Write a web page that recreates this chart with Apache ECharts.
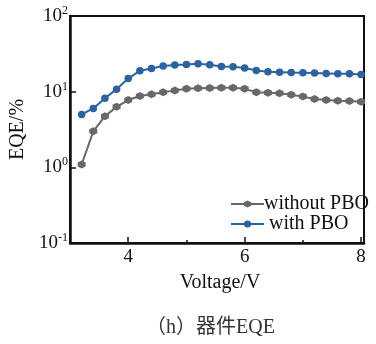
<!DOCTYPE html>
<html>
<head>
<meta charset="utf-8">
<script src="https://cdn.jsdelivr.net/npm/echarts@6/dist/echarts.min.js"></script>
<style>
  html, body { margin: 0; padding: 0; background: #fff; }
  #chart { width: 376px; height: 344px; }
</style>
</head>
<body>
<div id="chart"></div>
<script>
// Applied voltage (V)
var voltage = [3.2, 3.4, 3.6, 3.8, 4.0, 4.2, 4.4, 4.6, 4.8, 5.0, 5.2, 5.4, 5.6,
               5.8, 6.0, 6.2, 6.4, 6.6, 6.8, 7.0, 7.2, 7.4, 7.6, 7.8, 8.0];
// EQE (%) of the device without the PBO layer
var eqeWithout = [1.09, 2.99, 4.74, 6.3, 7.75, 8.77, 9.23, 9.82, 10.4, 10.9, 11.1, 11.2, 11.3,
                  11.3, 10.9, 9.8, 9.7, 9.5, 9.1, 8.6, 8.0, 7.75, 7.6, 7.5, 7.35];
// EQE (%) of the device with the PBO layer
var eqeWith = [5.0, 6.0, 8.2, 10.8, 14.9, 18.9, 20.3, 21.8, 22.5, 22.9, 23.4, 22.7, 21.5,
               21.3, 20.5, 19.1, 18.3, 18.1, 17.9, 17.8, 17.6, 17.4, 17.2, 17.2, 16.9];
// Axis ticks
var xMajorTicks = [4, 6, 8];
var xMinorTicks = [5, 7];
var yExponents = [-1, 0, 1, 2];

var seriesNames = ['without PBO', 'with PBO'];
var serif = '"Liberation Serif", "DejaVu Serif", serif';
var hexagon = 'path://M0,-1 L0.866,-0.5 L0.866,0.5 L0,1 L-0.866,0.5 L-0.866,-0.5 Z';

function pairs(xs, ys) {
  return xs.map(function (x, i) { return [x, ys[i]]; });
}

var chart = echarts.init(document.getElementById('chart'), null, { renderer: 'canvas' });

chart.setOption({
  animation: false,
  backgroundColor: '#fff',
  title: {
    text: '（h）器件EQE',
    left: 146,
    top: 318,
    padding: 0,
    textStyle: {
      fontFamily: '"Liberation Serif", "Noto Sans CJK SC", serif',
      fontSize: 20,
      fontWeight: 'normal',
      color: '#333'
    }
  },
  grid: {
    left: 70, right: 12, top: 16, bottom: 101,
    show: true,
    borderColor: '#111',
    borderWidth: 2,
    backgroundColor: 'transparent'
  },
  legend: {
    orient: 'vertical',
    left: 230,
    top: 194,
    padding: 0,
    itemWidth: 33,
    itemHeight: 9,
    itemGap: 0,
    formatter: function (name) { return name === seriesNames[1] ? ' ' + name : name; },
    textStyle: { fontFamily: serif, fontSize: 20, lineHeight: 19, color: '#111', padding: [0, 0, 0, -5] },
    data: seriesNames
  },
  xAxis: [{
    type: 'value',
    min: 3,
    max: 8.05,
    name: 'Voltage/V',
    nameLocation: 'middle',
    nameGap: 30,
    nameTextStyle: { fontFamily: serif, fontSize: 20, color: '#111', padding: [0, 0, 0, 6] },
    splitLine: { show: false },
    axisLine: { lineStyle: { color: '#111', width: 2.5 } },
    axisTick: { inside: true, length: 6, lineStyle: { color: '#111', width: 1.5 }, customValues: xMajorTicks },
    axisLabel: { fontFamily: serif, fontSize: 19, color: '#111', margin: 5, customValues: xMajorTicks }
  }, {
    type: 'value',
    min: 3,
    max: 8.05,
    position: 'bottom',
    splitLine: { show: false },
    axisLine: { show: false },
    axisTick: { inside: true, length: 3, lineStyle: { color: '#111', width: 1.5 }, customValues: xMinorTicks },
    axisLabel: { show: false }
  }],
  yAxis: {
    type: 'log',
    logBase: 10,
    min: 0.1,
    max: 100,
    name: 'EQE/%',
    nameLocation: 'middle',
    nameGap: 40,
    nameTextStyle: { fontFamily: serif, fontSize: 20, color: '#111' },
    splitLine: { show: false },
    minorTick: { show: false },
    axisLine: { lineStyle: { color: '#111', width: 2.5 } },
    axisTick: { inside: true, length: 6, lineStyle: { color: '#111', width: 1.5 } },
    axisLabel: {
      margin: 2,
      customValues: yExponents.map(function (e) { return Math.pow(10, e); }),
      formatter: function (v) {
        var e = Math.round(Math.log10(v));
        return '{b|10}{s|' + e + '}';
      },
      rich: {
        b: { fontFamily: serif, fontSize: 19, color: '#111' },
        s: { fontFamily: serif, fontSize: 12, color: '#111', padding: [0, 0, 10, 0] }
      }
    }
  },
  series: [{
    name: seriesNames[0],
    type: 'line',
    data: pairs(voltage, eqeWithout),
    symbol: hexagon,
    symbolSize: 8,
    lineStyle: { color: '#67676d', width: 2 },
    itemStyle: { color: '#67676d' }
  }, {
    name: seriesNames[1],
    type: 'line',
    data: pairs(voltage, eqeWith),
    symbol: 'circle',
    symbolSize: 7.5,
    lineStyle: { color: '#2c62a0', width: 2 },
    itemStyle: { color: '#2c62a0' }
  }]
});
</script>
</body>
</html>
